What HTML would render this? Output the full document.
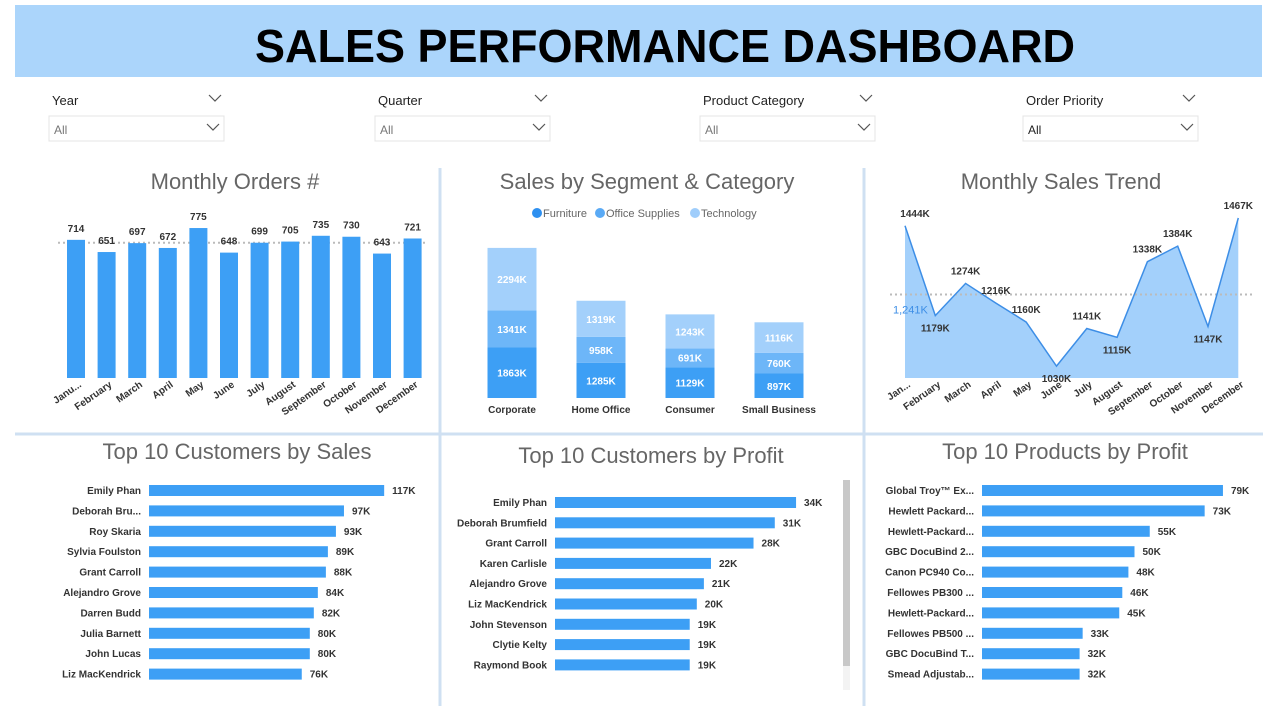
<!DOCTYPE html>
<html><head><meta charset="utf-8"><style>
html,body{margin:0;padding:0;background:#fff;}
svg{display:block;font-family:"Liberation Sans",sans-serif;}
.t{fill:#666;font-size:22px;}
.lb{fill:#333;font-size:10px;font-weight:bold;}
.in{fill:#fff;font-size:10px;font-weight:bold;}
</style></head><body>
<svg id="s" width="1280" height="720" xmlns="http://www.w3.org/2000/svg">
<rect x="15" y="5" width="1247" height="72" fill="#abd5fb"/>
<text x="665" y="62" text-anchor="middle" font-size="46" font-weight="bold" fill="#000" textLength="820" lengthAdjust="spacingAndGlyphs">SALES  PERFORMANCE  DASHBOARD</text>
<g id="filters"></g>
<g stroke="#cfe0f2" stroke-width="3">
<line x1="440" y1="168" x2="440" y2="706"/><line x1="864" y1="168" x2="864" y2="706"/>
<line x1="15" y1="434" x2="1263" y2="434"/></g>
<text class="t" x="235" y="189" text-anchor="middle">Monthly Orders #</text>
<text class="t" x="647" y="189" text-anchor="middle">Sales by Segment &amp; Category</text>
<text class="t" x="1061" y="189" text-anchor="middle">Monthly Sales Trend</text>
<text class="t" x="237" y="459" text-anchor="middle">Top 10 Customers by Sales</text>
<text class="t" x="651" y="463" text-anchor="middle">Top 10 Customers by Profit</text>
<text class="t" x="1065" y="459" text-anchor="middle">Top 10 Products by Profit</text>
<g font-size="11" fill="#666">
<circle cx="537" cy="213" r="5" fill="#2e90f0"/><text x="543" y="217">Furniture</text>
<circle cx="600" cy="213" r="5" fill="#5aaaf5"/><text x="606" y="217">Office Supplies</text>
<circle cx="695" cy="213" r="5" fill="#9fcdfb"/><text x="701" y="217">Technology</text></g>
<rect x="843" y="480" width="7" height="210" fill="#f3f3f3"/>
<rect x="843" y="480" width="7" height="186" fill="#c8c8c8"/>
<g id="g"></g>
</svg>
<script>
const NS="http://www.w3.org/2000/svg";
const G=document.getElementById('g');
function mk(tag,at,txt,par){const e=document.createElementNS(NS,tag);for(const k in at)e.setAttribute(k,at[k]);if(txt!=null)e.textContent=txt;(par||G).appendChild(e);return e;}

const months=["Janu...","February","March","April","May","June","July","August","September","October","November","December"];
const orders=[714,651,697,672,775,648,699,705,735,730,643,721];
const segments=["Corporate","Home Office","Consumer","Small Business"];
const furniture=[1863,1285,1129,897];
const officeSupplies=[1341,958,691,760];
const technology=[2294,1319,1243,1116];
const trendMonths=["Jan...","February","March","April","May","June","July","August","September","October","November","December"];
const sales=[1444,1179,1274,1216,1160,1030,1141,1115,1338,1384,1147,1467];
const custSalesNames=["Emily Phan","Deborah Bru...","Roy Skaria","Sylvia Foulston","Grant Carroll","Alejandro Grove","Darren Budd","Julia Barnett","John Lucas","Liz MacKendrick"];
const custSales=[117,97,93,89,88,84,82,80,80,76];
const custProfitNames=["Emily Phan","Deborah Brumfield","Grant Carroll","Karen Carlisle","Alejandro Grove","Liz MacKendrick","John Stevenson","Clytie Kelty","Raymond Book"];
const custProfit=[34,31,28,22,21,20,19,19,19];
const prodNames=["Global Troy™ Ex...","Hewlett Packard...","Hewlett-Packard...","GBC DocuBind 2...","Canon PC940 Co...","Fellowes PB300 ...","Hewlett-Packard...","Fellowes PB500 ...","GBC DocuBind T...","Smead Adjustab..."];
const prodProfit=[79,73,55,50,48,46,45,33,32,32];
const filterNames=["Year","Quarter","Product Category","Order Priority"];

// filters
const fx=[49,375,700,1023];
filterNames.forEach((n,i)=>{
  const x=fx[i];
  const t=mk('text',{x:x+3,y:105,'font-size':13,fill:'#222'},n);
  
  
  const r=mk('rect',{x:x,y:116,width:175,height:25,fill:'#fff',stroke:'#e4e4e4'});
  
  
  mk('text',{x:x+5,y:134,'font-size':12,fill:i==3?'#222':'#777'},'All');
  [[x+160,95],[x+158,124]].forEach(p=>{
    const c=mk('polyline',{points:`${p[0]},${p[1]} ${p[0]+6},${p[1]+6} ${p[0]+12},${p[1]}`,fill:'none',stroke:'#555','stroke-width':1.2});
    
    
  });
});

// monthly orders
const oX=i=>76+i*30.6, oY=v=>378-v*0.1935;
const avgO=orders.reduce((a,b)=>a+b,0)/orders.length;
mk('line',{x1:58,x2:425,y1:oY(avgO),y2:oY(avgO),stroke:'#bbb','stroke-dasharray':'2,3','stroke-width':2});
orders.forEach((v,i)=>{
  const b=mk('rect',{x:oX(i)-9,y:oY(v),width:18,height:378-oY(v),fill:'#3d9ff5'});
  
  
  mk('text',{x:oX(i),y:oY(v)-8,'text-anchor':'middle',class:'lb'},v);
  mk('text',{x:oX(i)+6,y:386,'text-anchor':'end',class:'lb',transform:`rotate(-35 ${oX(i)+6} 386)`},months[i]);
});

// stacked segment
const sX=i=>512+i*89, sY=v=>v*0.0273, base=398;
segments.forEach((s,i)=>{
  let y=base;
  [[furniture,'#3d9ff5'],[officeSupplies,'#6db6f8'],[technology,'#a3d0fb']].forEach((p,k)=>{
    const h=sY(p[0][i]); y-=h;
    const r=mk('rect',{x:sX(i)-24.5,y:y,width:49,height:h,fill:p[1]});
    
    
    mk('text',{x:sX(i),y:y+h/2+4,'text-anchor':'middle',class:'in'},p[0][i]+'K');
  });
  mk('text',{x:sX(i),y:413,'text-anchor':'middle',class:'lb'},s);
});

// trend
const tX=i=>905+i*30.3, tY=v=>378-(v-995)*0.339;
let pts=sales.map((v,i)=>tX(i)+','+tY(v)).join(' ');
const area=mk('polygon',{points:`${tX(0)},378 ${pts} ${tX(11)},378`,fill:'#a3d0fb'});


const avgS=sales.reduce((a,b)=>a+b,0)/sales.length;
mk('line',{x1:890,x2:1252,y1:tY(avgS),y2:tY(avgS),stroke:'#bbb','stroke-dasharray':'2,3','stroke-width':2});
mk('text',{x:893,y:tY(avgS)+19,'font-size':11,fill:'#3d8ee6'},'1,241K');
const ln=mk('polyline',{points:pts,fill:'none',stroke:'#3d8ee6','stroke-width':1.5});


const off=[-1,1,-1,-1,-1,1,-1,1,-1,-1,1,-1];
sales.forEach((v,i)=>{
  const y=off[i]<0?tY(v)-9:tY(v)+16;
  mk('text',{x:tX(i)+(i==0?10:i==11?0:0),y:y,'text-anchor':'middle',class:'lb'},v+'K');
  mk('text',{x:tX(i)+6,y:386,'text-anchor':'end',class:'lb',transform:`rotate(-35 ${tX(i)+6} 386)`},trendMonths[i]);
});

// hbar charts
function hbar(names,vals,x0,y0,sc,step,key){
  names.forEach((n,i)=>{
    const y=y0+i*step;
    mk('text',{x:x0-8,y:y+9,'text-anchor':'end',class:'lb'},n);
    const r=mk('rect',{x:x0,y:y,width:vals[i]*sc,height:11,fill:'#3d9ff5'});
    
    
    mk('text',{x:x0+vals[i]*sc+8,y:y+9,class:'lb'},vals[i]+'K');
  });
}
hbar(custSalesNames,custSales,149,485,2.01,20.4,'customer-sales');
hbar(custProfitNames,custProfit,555,497,7.09,20.3,'customer-profit');
hbar(prodNames,prodProfit,982,485,3.05,20.4,'product-profit');
</script>
</body></html>
